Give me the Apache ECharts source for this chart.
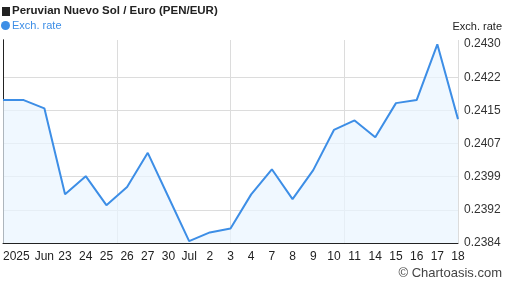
<!DOCTYPE html>
<html>
<head>
<meta charset="utf-8">
<script src="https://cdn.jsdelivr.net/npm/echarts@6/dist/echarts.min.js"></script>
<style>
html,body{margin:0;padding:0;background:#fff;}
#c{width:507px;height:288px;}
</style>
</head>
<body>
<div id="c"></div>
<script>
var categories = ['2025','','Jun','23','24','25','26','27','30','Jul','2','3','4','7','8','9','10','11','14','15','16','17','18'];
var rates = [0.24172,0.24172,0.24153,0.23954,0.23996,0.23929,0.23971,0.24050,0.23948,0.23846,0.23866,0.23875,0.23954,0.24012,0.23943,0.24010,0.24103,0.24125,0.24086,0.24165,0.24172,0.24301,0.24128];
var yInterval = 0.00076661;
var yMin = 0.238415;
var yMax = 0.24311;
var titleText = 'Peruvian Nuevo Sol / Euro (PEN/EUR)';
var seriesName = 'Exch. rate';

var font = '"Liberation Sans", Arial, sans-serif';
var chart = echarts.init(document.getElementById('c'), null, {renderer:'canvas'});
var catData = categories.map(function(c, i){
  if (i === 0) return {value: c, textStyle: {align: 'left'}};
  return c;
});
chart.setOption({
  animation: false,
  grid: {left: 2, right: 49, top: 40, bottom: 45, containLabel: false},
  graphic: [
    {type:'rect', left: 2, top: 7, shape:{width:8, height:9}, style:{fill:'#222'}},
    {type:'text', left: 12, top: 5, style:{text: titleText, font: 'bold 11.5px ' + font, fill:'#222'}},
    {type:'circle', left: 1, top: 21, shape:{r:4.5}, style:{fill:'#3d8ee6'}},
    {type:'text', left: 12, top: 20, style:{text: seriesName, font: '11px ' + font, fill:'#3d8ee6'}},
    {type:'text', right: 5, top: 21, style:{text: seriesName, font: '11px ' + font, fill:'#222'}},
    {type:'text', right: 5, top: 267, style:{text: '\u00a9 Chartoasis.com', font: '13px ' + font, fill:'#444'}}
  ],
  xAxis: [
    {
      type: 'category', data: catData, boundaryGap: false,
      axisLine: {show: true, lineStyle: {color: '#222', width: 1}},
      axisTick: {show: false},
      axisLabel: {interval: 0, color: '#222', fontFamily: font, fontSize: 12, margin: 8},
      splitLine: {show: false}
    },
    {
      type: 'value', min: 0, max: 22, interval: 5.5, position: 'bottom',
      axisLine: {show: false}, axisTick: {show: false}, axisLabel: {show: false},
      splitLine: {show: true, lineStyle: {color: '#dcdcdc', width: 1}}
    }
  ],
  yAxis: [
    {
      type: 'value', position: 'right', min: yMin, max: yMax, interval: yInterval,
      axisLine: {show: true, lineStyle: {color: '#222', width: 1}},
      axisTick: {show: false},
      axisLabel: {color: '#333', fontFamily: font, fontSize: 12, margin: 6,
        formatter: function(v){ return v.toFixed(4); }},
      splitLine: {show: true, lineStyle: {color: ['#dcdcdc','#dcdcdc','#dcdcdc','#dcdcdc','#dcdcdc','#dcdcdc','rgba(0,0,0,0)','rgba(0,0,0,0)'], width: 1}}
    },
    {
      type: 'value', position: 'left', min: yMin, max: yMax,
      axisLine: {show: true, onZero: false, lineStyle: {color: '#222', width: 1}},
      axisTick: {show: false}, axisLabel: {show: false}, splitLine: {show: false}
    }
  ],
  series: [{
    name: seriesName, type: 'line', data: rates, xAxisIndex: 0, yAxisIndex: 0,
    symbol: 'none', smooth: false,
    lineStyle: {color: '#3d8ee6', width: 2},
    areaStyle: {color: '#eaf5ff', origin: 'start'}
  }]
});
</script>
</body>
</html>
